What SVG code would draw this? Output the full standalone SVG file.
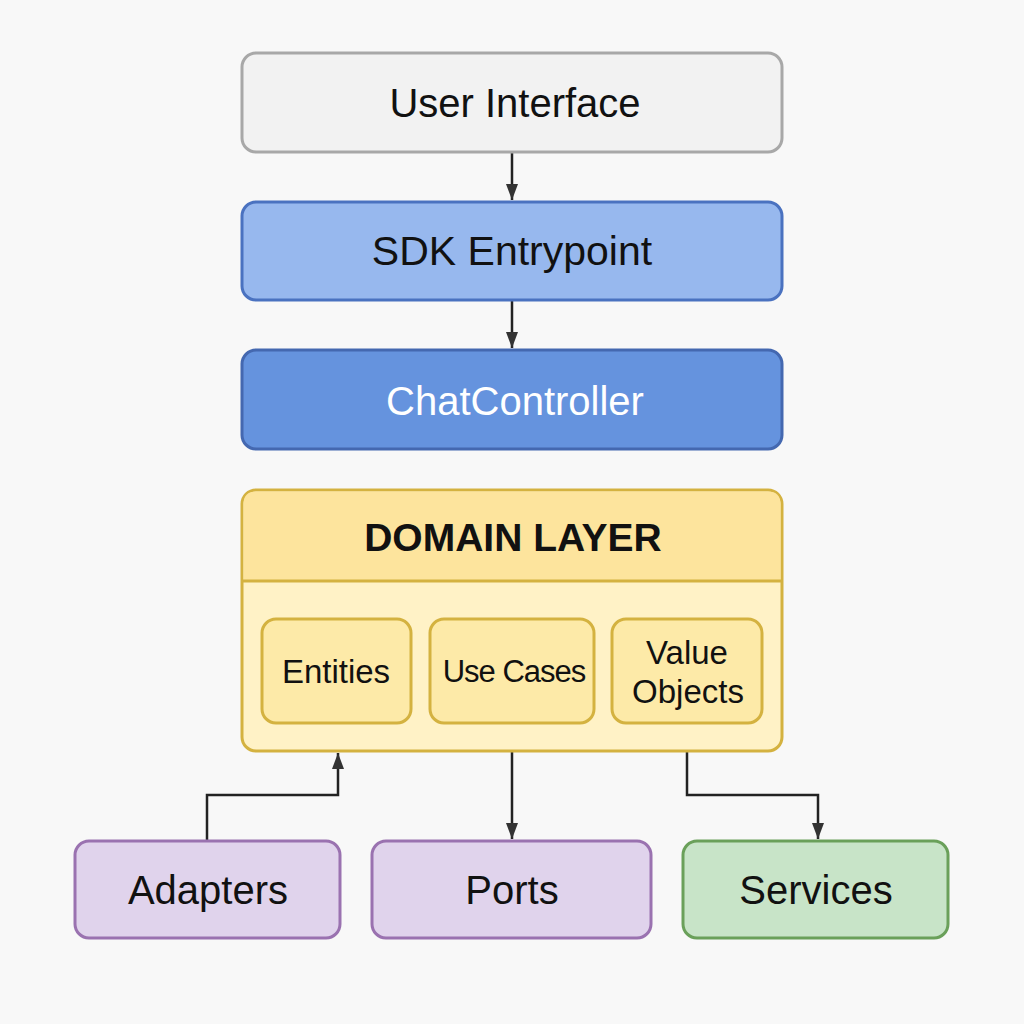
<svg xmlns="http://www.w3.org/2000/svg" width="1024" height="1024" viewBox="0 0 1024 1024">
<defs>
<marker id="arr" viewBox="0 0 16 12" refX="16" refY="6" markerWidth="16" markerHeight="12" markerUnits="userSpaceOnUse" orient="auto">
<path d="M0,0 L16,6 L0,12 z" fill="#333"/>
</marker>
<style>
text{font-family:"Liberation Sans",Arial,sans-serif;text-anchor:middle;dominant-baseline:central;fill:#111}
.box{stroke-width:3}
.conn{fill:none;stroke:#222;stroke-width:2.5}
</style>
</defs>
<rect width="1024" height="1024" fill="#f8f8f8"/>
<g id="connectors">
<path class="conn" d="M512,152 V200" marker-end="url(#arr)"/>
<path class="conn" d="M512,300 V348" marker-end="url(#arr)"/>
<path class="conn" d="M207,841 V795 H338 V753" marker-end="url(#arr)"/>
<path class="conn" d="M512,751 V839" marker-end="url(#arr)"/>
<path class="conn" d="M687,751 V795 H818 V839" marker-end="url(#arr)"/>
</g>
<g id="user-interface">
<rect class="box" x="242" y="53" width="540" height="99" rx="14" fill="#f2f2f2" stroke="#a8a8a8"/>
<text x="515" y="103" font-size="40">User Interface</text>
</g>
<g id="sdk-entrypoint">
<rect class="box" x="242" y="202" width="540" height="98" rx="14" fill="#97b8ee" stroke="#4a72c0"/>
<text x="512" y="251" font-size="41">SDK Entrypoint</text>
</g>
<g id="chat-controller">
<rect class="box" x="242" y="350" width="540" height="99" rx="14" fill="#6593de" stroke="#4468b0"/>
<text x="515" y="401" font-size="40" style="fill:#ffffff">ChatController</text>
</g>
<g id="domain-layer">
<rect class="box" x="242" y="490" width="540" height="261" rx="14" fill="#fff2c6" stroke="#d4b240"/>
<path d="M243.5,581 V504 Q243.5,491.5 256,491.5 H768 Q780.5,491.5 780.5,504 V581 Z" fill="#fde49d"/>
<line x1="242" y1="581" x2="782" y2="581" stroke="#d4b240" stroke-width="3"/>
<text x="513" y="537" font-size="39" font-weight="bold">DOMAIN LAYER</text>
</g>
<g id="entities">
<rect class="box" x="262" y="619" width="149" height="104" rx="14" fill="#fdeaa8" stroke="#d4b240"/>
<text x="336" y="671" font-size="33">Entities</text>
</g>
<g id="use-cases">
<rect class="box" x="430" y="619" width="164" height="104" rx="14" fill="#fdeaa8" stroke="#d4b240"/>
<text x="514" y="671" font-size="31" letter-spacing="-1">Use Cases</text>
</g>
<g id="value-objects">
<rect class="box" x="612" y="619" width="150" height="104" rx="14" fill="#fdeaa8" stroke="#d4b240"/>
<text x="687" y="652" font-size="33">Value</text>
<text x="688" y="691" font-size="33">Objects</text>
</g>
<g id="adapters">
<rect class="box" x="75" y="841" width="265" height="97" rx="14" fill="#e0d3ec" stroke="#9a72b0"/>
<text x="208" y="890" font-size="40">Adapters</text>
</g>
<g id="ports">
<rect class="box" x="372" y="841" width="279" height="97" rx="14" fill="#e0d3ec" stroke="#9a72b0"/>
<text x="512" y="890" font-size="40">Ports</text>
</g>
<g id="services">
<rect class="box" x="683" y="841" width="265" height="97" rx="14" fill="#c8e4c8" stroke="#6aa05a"/>
<text x="816" y="890" font-size="40">Services</text>
</g>
</svg>
